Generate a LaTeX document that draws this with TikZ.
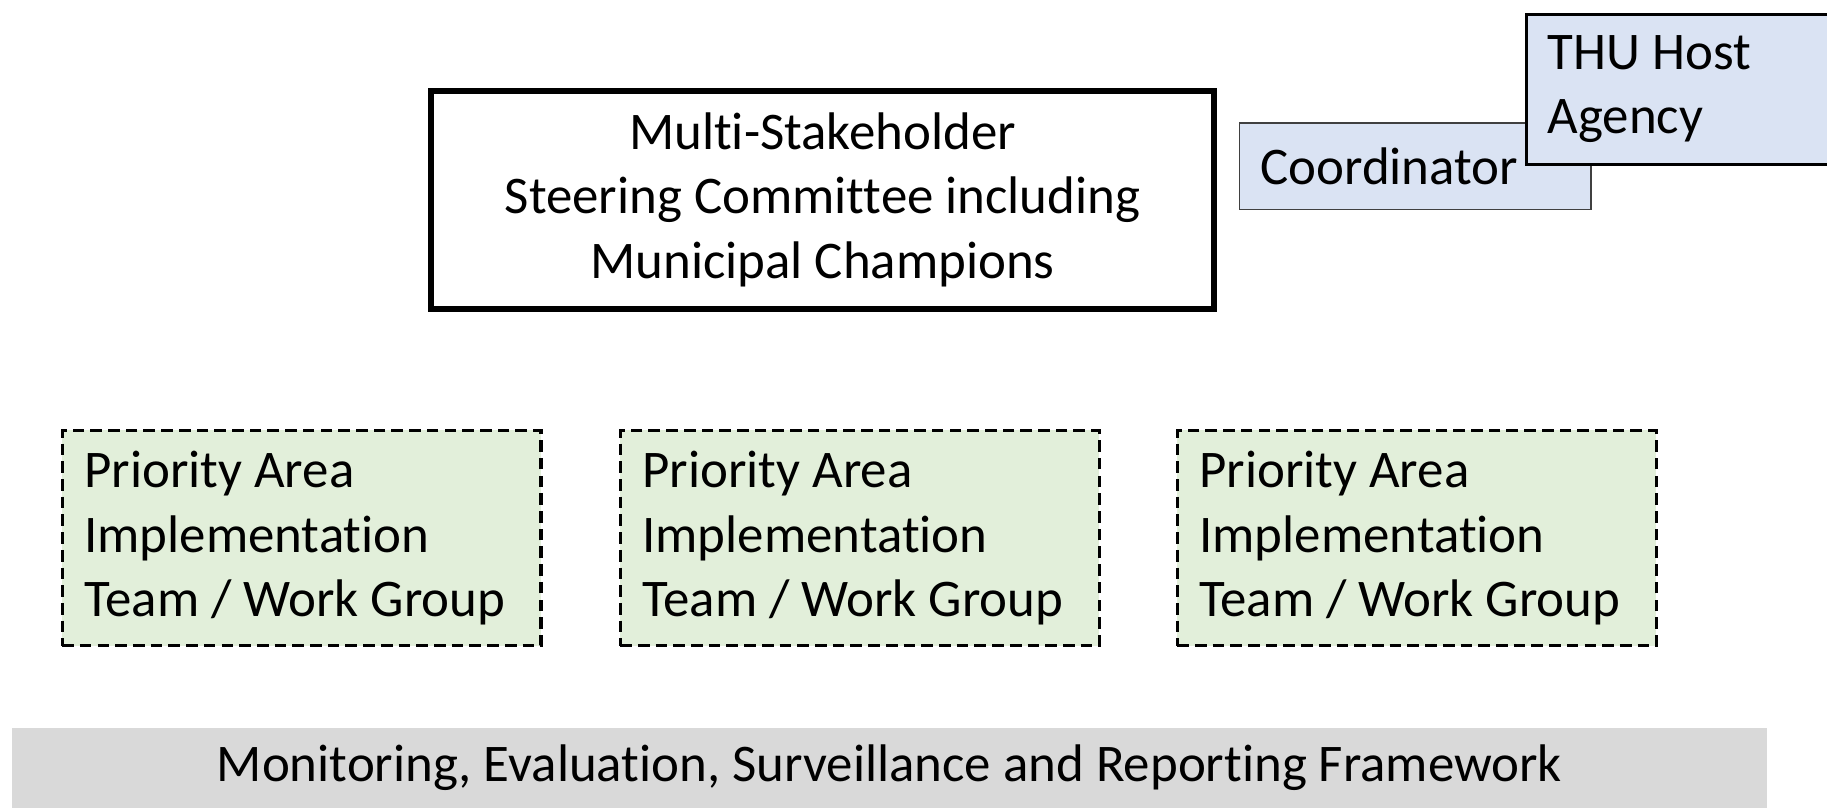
\documentclass[tikz,border=0pt]{standalone}
\usepackage{fontspec}
\setmainfont{Carlito}[Ligatures={NoCommon}]
\definecolor{blueish}{HTML}{DAE3F3}
\definecolor{greenish}{HTML}{E2EFDA}
\definecolor{greyish}{HTML}{D9D9D9}
\begin{document}
\begin{tikzpicture}[x=0.5pt,y=-0.5pt,
  base/.style={inner sep=0pt, font=\fontsize{22.7}{27.5}\selectfont},
  steer/.style={base, draw, line width=2.5pt, minimum width=336pt, minimum height=93.5pt, align=center},
  coord/.style={base, draw=black!75, line width=0.6pt, fill=blueish, minimum height=37pt, text width=133pt, inner xsep=9pt, align=flush left},
  host/.style={base, draw, line width=1.2pt, fill=blueish, minimum height=64.5pt, text width=141pt, inner xsep=9pt, align=flush left},
  prio/.style={base, draw, dash pattern=on 5pt off 2.6pt, line width=1.3pt, fill=greenish, minimum height=92.5pt, text width=186.5pt, inner xsep=9.5pt, align=flush left},
  bar/.style={base, fill=greyish, minimum width=753pt, minimum height=34.5pt, align=center}]
\clip (0,0) rectangle (1568,693);
\useasboundingbox (0,0) rectangle (1568,693);
\node[steer] (steer) at (706,171.5) {Multi-Stakeholder\\Steering Committee including\\Municipal Champions};
\node[coord, anchor=north west] (coordinator) at (1063,105) {Coordinator};
\node[host, anchor=north west] (host) at (1309,11) {THU Host\\Agency};
\node[prio, anchor=north west] (p1) at (52,368) {Priority Area\\Implementation\\Team / Work Group};
\node[prio, anchor=north west] (p2) at (531,368) {Priority Area\\Implementation\\Team / Work Group};
\node[prio, anchor=north west] (p3) at (1009,368) {Priority Area\\Implementation\\Team / Work Group};
\node[bar, anchor=north west] (mesr) at (10,624) {Monitoring, Evaluation, Surveillance and Reporting Framework};
\end{tikzpicture}
\end{document}
